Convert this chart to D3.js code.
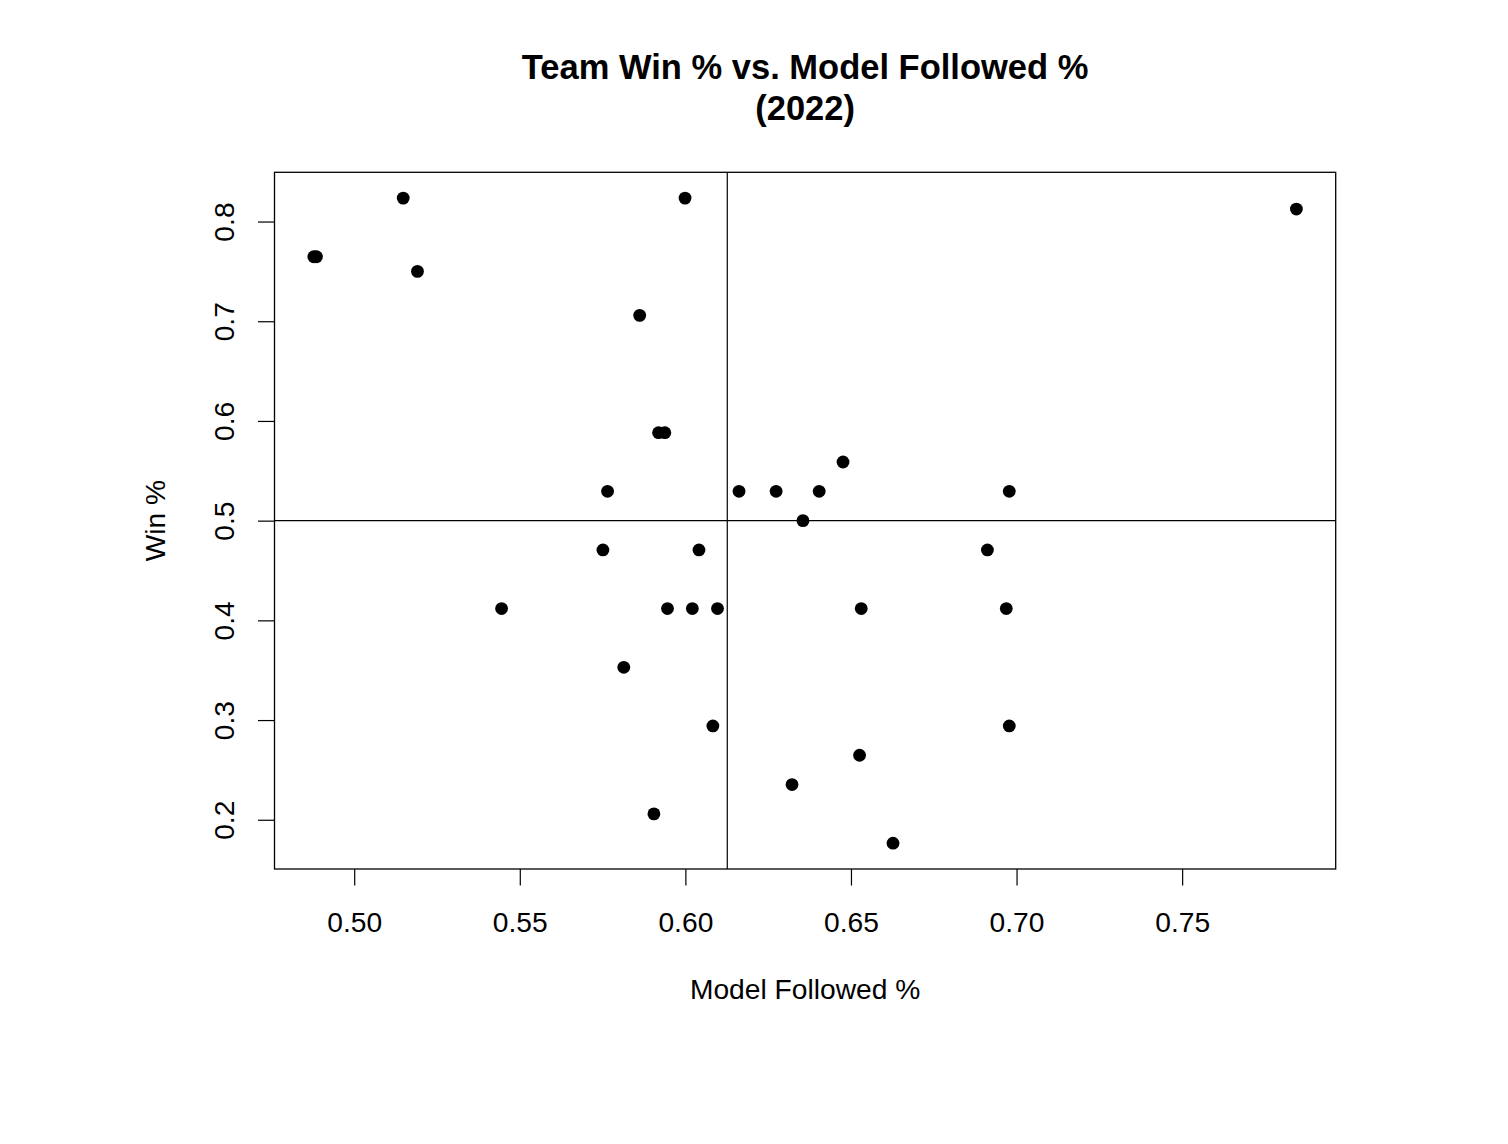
<!DOCTYPE html>
<html>
<head>
<meta charset="utf-8">
<script src="https://cdn.jsdelivr.net/npm/d3@7"></script>
<style>
  html, body { margin: 0; padding: 0; background: #fff; }
  svg { display: block; }
  text { font-family: "Liberation Sans", Arial, Helvetica, sans-serif; fill: #000; }
</style>
</head>
<body>
<svg id="chart" width="1508" height="1144"></svg>
<script>
// Data (one value per team, 2022 season)
const modelFollowed = [
  0.5148, 0.5999, 0.7845, 0.4878, 0.4886, 0.5191, 0.5862, 0.5919,
  0.5938, 0.6476, 0.5765, 0.6162, 0.6274, 0.6404, 0.6978, 0.6355,
  0.5751, 0.6041, 0.6912, 0.5445, 0.5946, 0.6021, 0.6097, 0.6531,
  0.6969, 0.5814, 0.6083, 0.6978, 0.6526, 0.6322, 0.5905, 0.6627
];
const winPct = [
  0.8235, 0.8235, 0.8125, 0.7647, 0.7647, 0.7500, 0.7059, 0.5882,
  0.5882, 0.5588, 0.5294, 0.5294, 0.5294, 0.5294, 0.5294, 0.5000,
  0.4706, 0.4706, 0.4706, 0.4118, 0.4118, 0.4118, 0.4118, 0.4118,
  0.4118, 0.3529, 0.2941, 0.2941, 0.2647, 0.2353, 0.2059, 0.1765
];
const xTicks = [0.50, 0.55, 0.60, 0.65, 0.70, 0.75];
const yTicks = [0.2, 0.3, 0.4, 0.5, 0.6, 0.7, 0.8];
const hLineValue = 0.5;
const titleLines = ["Team Win % vs. Model Followed %", "(2022)"];
const xLabel = "Model Followed %";
const yLabel = "Win %";

// Layout
const plot = { left: 274.5, right: 1335.7, top: 172.3, bottom: 869 };
const tickLen = 16.5;
const fontSize = "28.2px";

// R-style 4% range extension
function rDomain(vals) {
  const [a, b] = d3.extent(vals);
  const p = (b - a) * 0.04;
  return [a - p, b + p];
}

const x = d3.scaleLinear().domain(rDomain(modelFollowed)).range([plot.left, plot.right]);
const y = d3.scaleLinear().domain(rDomain(winPct)).range([plot.bottom, plot.top]);

const svg = d3.select("#chart");
svg.append("rect").attr("width", 1508).attr("height", 1144).attr("fill", "#fff");

const points = modelFollowed.map((v, i) => ({ x: v, y: winPct[i] }));

// Reference lines
const vLineValue = d3.mean(modelFollowed);
svg.append("line")
  .attr("x1", x(vLineValue)).attr("x2", x(vLineValue))
  .attr("y1", plot.top).attr("y2", plot.bottom)
  .attr("stroke", "#000").attr("stroke-width", 1.2);
svg.append("line")
  .attr("x1", plot.left).attr("x2", plot.right)
  .attr("y1", y(hLineValue)).attr("y2", y(hLineValue))
  .attr("stroke", "#000").attr("stroke-width", 1.2);

// Points
svg.append("g").selectAll("circle").data(points).join("circle")
  .attr("cx", d => x(d.x)).attr("cy", d => y(d.y))
  .attr("r", 6.4).attr("fill", "#000");

// Box
svg.append("rect")
  .attr("x", plot.left).attr("y", plot.top)
  .attr("width", plot.right - plot.left).attr("height", plot.bottom - plot.top)
  .attr("fill", "none").attr("stroke", "#000").attr("stroke-width", 1.3);

// X axis
const gx = svg.append("g").attr("transform", `translate(0,${plot.bottom})`)
  .call(d3.axisBottom(x).tickValues(xTicks).tickFormat(d3.format(".2f")).tickSize(tickLen));
gx.select(".domain").remove();
gx.selectAll(".tick line").attr("stroke", "#000").attr("stroke-width", 1.2);
gx.selectAll(".tick text")
  .attr("y", 62.7).attr("dy", 0)
  .style("font-size", fontSize).style("font-family", '"Liberation Sans", Arial, sans-serif').attr("fill", "#000");

// Y axis
const gy = svg.append("g").attr("transform", `translate(${plot.left},0)`)
  .call(d3.axisLeft(y).tickValues(yTicks).tickFormat(d3.format(".1f")).tickSize(tickLen));
gy.select(".domain").remove();
gy.selectAll(".tick line").attr("stroke", "#000").attr("stroke-width", 1.2);
gy.selectAll(".tick text")
  .attr("x", 0).attr("y", -40.5).attr("dy", 0)
  .attr("transform", "rotate(-90)")
  .attr("text-anchor", "middle")
  .style("font-size", fontSize).style("font-family", '"Liberation Sans", Arial, sans-serif').attr("fill", "#000");

// Axis titles
const cx = (plot.left + plot.right) / 2;
const cy = (plot.top + plot.bottom) / 2;
svg.append("text")
  .attr("x", cx).attr("y", 999)
  .attr("text-anchor", "middle").style("font-size", fontSize)
  .text(xLabel);
svg.append("text")
  .attr("transform", `translate(165,${cy}) rotate(-90)`)
  .attr("text-anchor", "middle").style("font-size", fontSize)
  .text(yLabel);

// Title
svg.selectAll(".title").data(titleLines).join("text")
  .attr("class", "title")
  .attr("x", cx).attr("y", (d, i) => 79 + i * 41)
  .attr("text-anchor", "middle")
  .style("font-size", "34.5px").style("font-weight", "bold")
  .text(d => d);
</script>
</body>
</html>
